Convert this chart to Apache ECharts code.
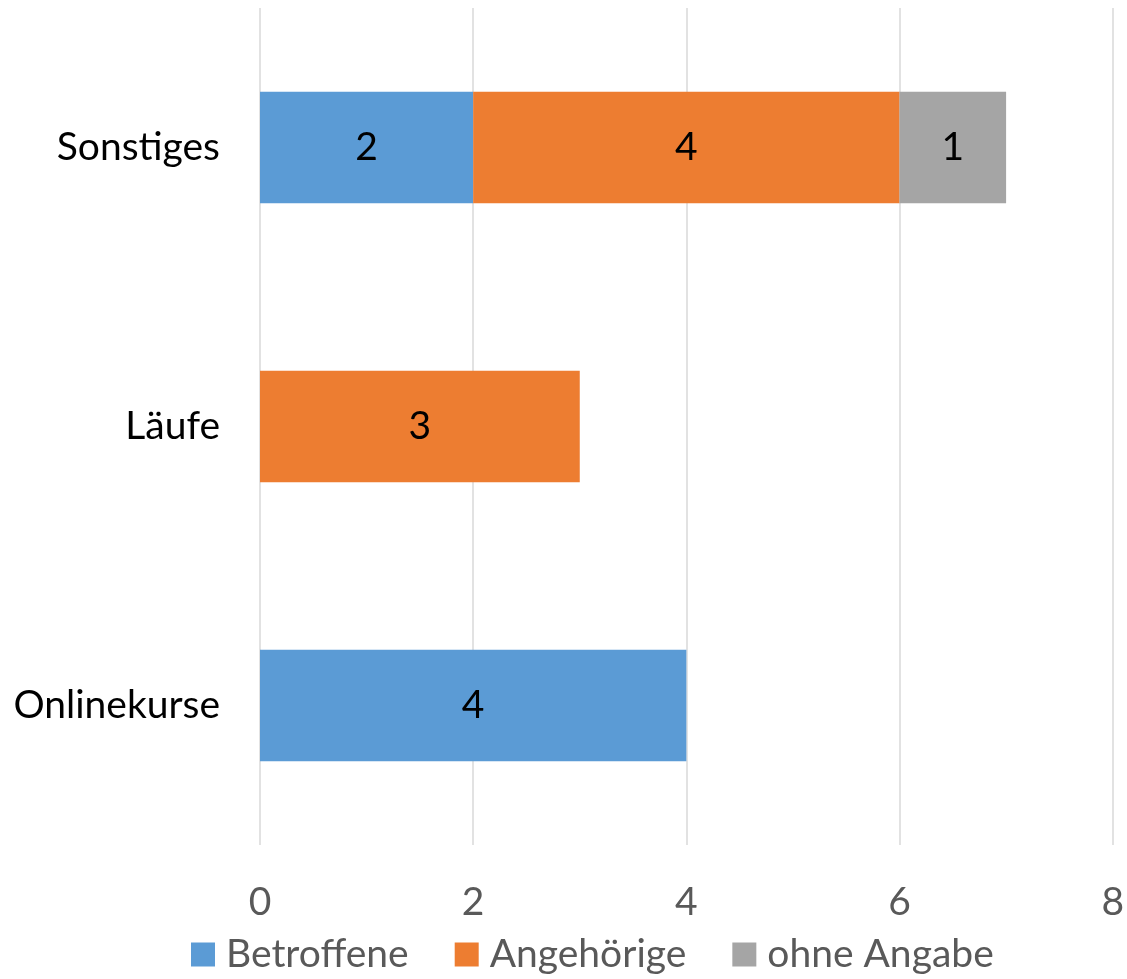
<!DOCTYPE html>
<html>
<head>
<meta charset="utf-8">
<script src="https://cdn.jsdelivr.net/npm/echarts@6/dist/echarts.min.js"></script>
<style>
  html, body { margin: 0; padding: 0; background: #fff; }
  #chart-container { width: 1127px; height: 979px; }
</style>
</head>
<body>
<div id="chart-container"></div>
<script>
const categories = ['Onlinekurse', 'Läufe', 'Sonstiges'];
const betroffene = [4, null, 2];
const angehoerige = [null, 3, 4];
const ohneAngabe = [null, null, 1];
const xTicks = [0, 2, 4, 6, 8];

const FONT = 'Lato, "Open Sans", sans-serif';
const FONT_SIZE = 39;

const initChart = () => {
  const dom = document.getElementById('chart-container');
  return echarts.init(dom, null, { renderer: 'canvas' });
};

const barSeries = (name, data, color) => ({
  name: name,
  type: 'bar',
  stack: 'total',
  data: data,
  barWidth: '40%',
  itemStyle: { color: color },
  label: {
    show: true,
    position: 'inside',
    color: '#000',
    fontSize: FONT_SIZE,
    fontFamily: FONT,
  },
});

const chart = initChart();
chart.setOption({
  animation: false,
  grid: { left: 260, right: 14, top: 8, bottom: 134, containLabel: false },
  legend: {
    bottom: 0,
    left: 186,
    itemWidth: 24,
    itemHeight: 24,
    itemGap: 46,
    icon: 'rect',
    textStyle: {
      fontSize: FONT_SIZE,
      color: '#595959',
      fontFamily: FONT,
      padding: [0, 0, 0, 6],
    },
  },
  xAxis: {
    type: 'value',
    min: xTicks[0],
    max: xTicks[xTicks.length - 1],
    interval: 2,
    axisLine: { show: false },
    axisTick: { show: false },
    splitLine: { lineStyle: { color: '#D9D9D9', width: 1.5 } },
    axisLabel: { fontSize: FONT_SIZE, color: '#595959', margin: 38, fontFamily: FONT },
  },
  yAxis: {
    type: 'category',
    data: categories,
    axisLine: { show: false },
    axisTick: { show: false },
    axisLabel: { fontSize: FONT_SIZE, color: '#000', margin: 40, fontFamily: FONT },
  },
  series: [
    barSeries('Betroffene', betroffene, '#5B9BD5'),
    barSeries('Angehörige', angehoerige, '#ED7D31'),
    barSeries('ohne Angabe', ohneAngabe, '#A5A5A5'),
  ],
});
</script>
</body>
</html>
